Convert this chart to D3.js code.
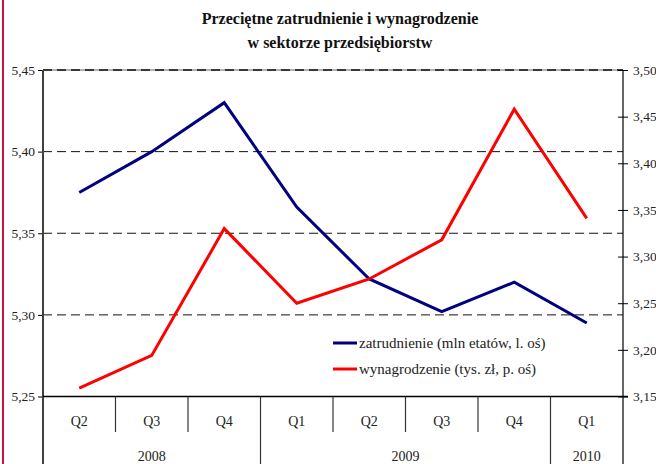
<!DOCTYPE html>
<html>
<head>
<meta charset="utf-8">
<script src="https://d3js.org/d3.v7.min.js"></script>
<style>
  body { margin: 0; background: #fff; }
  svg { display: block; font-family: "Liberation Serif", "DejaVu Serif", serif; }
</style>
</head>
<body>
<div id="chart"></div>
<script>
var quarters = ["Q2", "Q3", "Q4", "Q1", "Q2", "Q3", "Q4", "Q1"];
var years = ["2008", "2008", "2008", "2009", "2009", "2009", "2009", "2010"];
// zatrudnienie (mln etatów, lewa oś)
var zatrudnienie = [5.375, 5.400, 5.430, 5.366, 5.322, 5.302, 5.320, 5.295];
// wynagrodzenie (tys. zł, prawa oś)
var wynagrodzenie = [3.159, 3.194, 3.330, 3.250, 3.276, 3.318, 3.458, 3.341];
var leftTicks = [5.25, 5.30, 5.35, 5.40, 5.45];
var rightTicks = [3.15, 3.20, 3.25, 3.30, 3.35, 3.40, 3.45, 3.50];
var seriesNames = ["zatrudnienie (mln etatów, l. oś)", "wynagrodzenie (tys. zł, p. oś)"];
var seriesColors = ["#000080", "#ff0000"];

var width = 656, height = 464;
var plotLeft = 43, plotRight = 623, plotTop = 70, plotBottom = 396.5;
var serif = "'Liberation Serif', 'DejaVu Serif', serif";

var svg = d3.select("#chart").append("svg")
    .attr("width", width)
    .attr("height", height);

var idx = d3.range(quarters.length);
var x = d3.scaleBand().domain(idx).range([plotLeft, plotRight]).padding(0);
var yL = d3.scaleLinear().domain([5.25, 5.45]).range([plotBottom, plotTop]);
var yR = d3.scaleLinear().domain([3.15, 3.50]).range([plotBottom, plotTop]);
var fmt = function(d) { return d3.format(".2f")(d).replace(".", ","); };

// red border on the left edge
svg.append("line")
    .attr("x1", 3).attr("x2", 3).attr("y1", 0).attr("y2", height)
    .attr("stroke", "#c8143c").attr("stroke-width", 2);

// title
var title = svg.append("text")
    .attr("text-anchor", "middle")
    .attr("font-weight", "bold")
    .attr("font-size", 16)
    .attr("fill", "#111");
title.append("tspan").attr("x", 340).attr("y", 24).text("Przeciętne zatrudnienie i wynagrodzenie");
title.append("tspan").attr("x", 340).attr("y", 48).text("w sektorze przedsiębiorstw");

// top border (solid grey under dashes)
svg.append("line")
    .attr("x1", plotLeft).attr("x2", plotRight)
    .attr("y1", plotTop).attr("y2", plotTop)
    .attr("stroke", "#999").attr("stroke-width", 1.5);

// dashed gridlines
svg.append("g").selectAll("line")
    .data(leftTicks.slice(1))
    .join("line")
    .attr("x1", plotLeft).attr("x2", plotRight)
    .attr("y1", function(d) { return yL(d); })
    .attr("y2", function(d) { return yL(d); })
    .attr("stroke", "#111")
    .attr("stroke-width", function(d, i) { return i == leftTicks.length - 2 ? 1.5 : 1; })
    .attr("stroke-dasharray", "9,5");

// left axis
var axL = svg.append("g")
    .attr("transform", "translate(" + plotLeft + ",0)")
    .call(d3.axisLeft(yL).tickValues(leftTicks).tickSize(5).tickSizeOuter(0).tickPadding(3).tickFormat(fmt))
    .attr("font-family", serif)
    .attr("font-size", 13.5);
axL.select(".domain").remove();
axL.selectAll(".tick text").attr("fill", "#222");
axL.append("line")
    .attr("x1", 0).attr("x2", 0).attr("y1", plotTop).attr("y2", height)
    .attr("stroke", "#404040").attr("stroke-width", 2);

// right axis
var axR = svg.append("g")
    .attr("transform", "translate(" + plotRight + ",0)")
    .call(d3.axisRight(yR).tickValues(rightTicks).tickSize(5).tickSizeOuter(0).tickPadding(5).tickFormat(fmt))
    .attr("font-family", serif)
    .attr("font-size", 13.5);
axR.select(".domain").remove();
axR.selectAll(".tick text").attr("fill", "#222");
axR.selectAll(".tick line").attr("x1", -5);
axR.append("line")
    .attr("x1", 0).attr("x2", 0).attr("y1", plotTop).attr("y2", height)
    .attr("stroke", "#000").attr("stroke-width", 1.2);

// bottom line
svg.append("line")
    .attr("x1", plotLeft).attr("x2", plotRight + 5)
    .attr("y1", plotBottom).attr("y2", plotBottom)
    .attr("stroke", "#000").attr("stroke-width", 1.5);

// category separators: short between quarters, long between years
var sep = svg.append("g");
idx.slice(1).forEach(function(i) {
  var yearBreak = years[i] != years[i - 1];
  sep.append("line")
      .attr("x1", x(i)).attr("x2", x(i))
      .attr("y1", plotBottom).attr("y2", yearBreak ? height : 432)
      .attr("stroke", "#333").attr("stroke-width", 1.2);
});

// quarter labels
svg.append("g").selectAll("text")
    .data(idx)
    .join("text")
    .attr("x", function(i) { return x(i) + x.bandwidth() / 2; })
    .attr("y", 426)
    .attr("text-anchor", "middle")
    .attr("font-size", 14)
    .attr("fill", "#222")
    .text(function(i) { return quarters[i]; });

// year labels (centered on each run of quarters)
var groups = [];
idx.forEach(function(i) {
  if (i == 0 || years[i] != years[i - 1]) groups.push({ year: years[i], start: i, end: i });
  else groups[groups.length - 1].end = i;
});
svg.append("g").selectAll("text")
    .data(groups)
    .join("text")
    .attr("x", function(g) { return (x(g.start) + x(g.end) + x.bandwidth()) / 2; })
    .attr("y", 461)
    .attr("text-anchor", "middle")
    .attr("font-size", 14)
    .attr("fill", "#222")
    .text(function(g) { return g.year; });

// series lines
var cx = function(i) { return x(i) + x.bandwidth() / 2; };
var lineL = d3.line().x(function(d, i) { return cx(i); }).y(function(d) { return yL(d); });
var lineR = d3.line().x(function(d, i) { return cx(i); }).y(function(d) { return yR(d); });

svg.append("path")
    .attr("d", lineL(zatrudnienie))
    .attr("fill", "none").attr("stroke", seriesColors[0]).attr("stroke-width", 3);
svg.append("path")
    .attr("d", lineR(wynagrodzenie))
    .attr("fill", "none").attr("stroke", seriesColors[1]).attr("stroke-width", 3);

// legend
var legend = svg.append("g").attr("transform", "translate(333,343)");
seriesNames.forEach(function(name, i) {
  var row = legend.append("g").attr("transform", "translate(0," + (i * 26) + ")");
  row.append("line")
      .attr("x1", 0).attr("x2", 24).attr("y1", 0).attr("y2", 0)
      .attr("stroke", seriesColors[i]).attr("stroke-width", 3);
  row.append("text")
      .attr("x", 26).attr("y", 5)
      .attr("font-size", 15)
      .attr("fill", "#222")
      .text(name);
});
</script>
</body>
</html>
